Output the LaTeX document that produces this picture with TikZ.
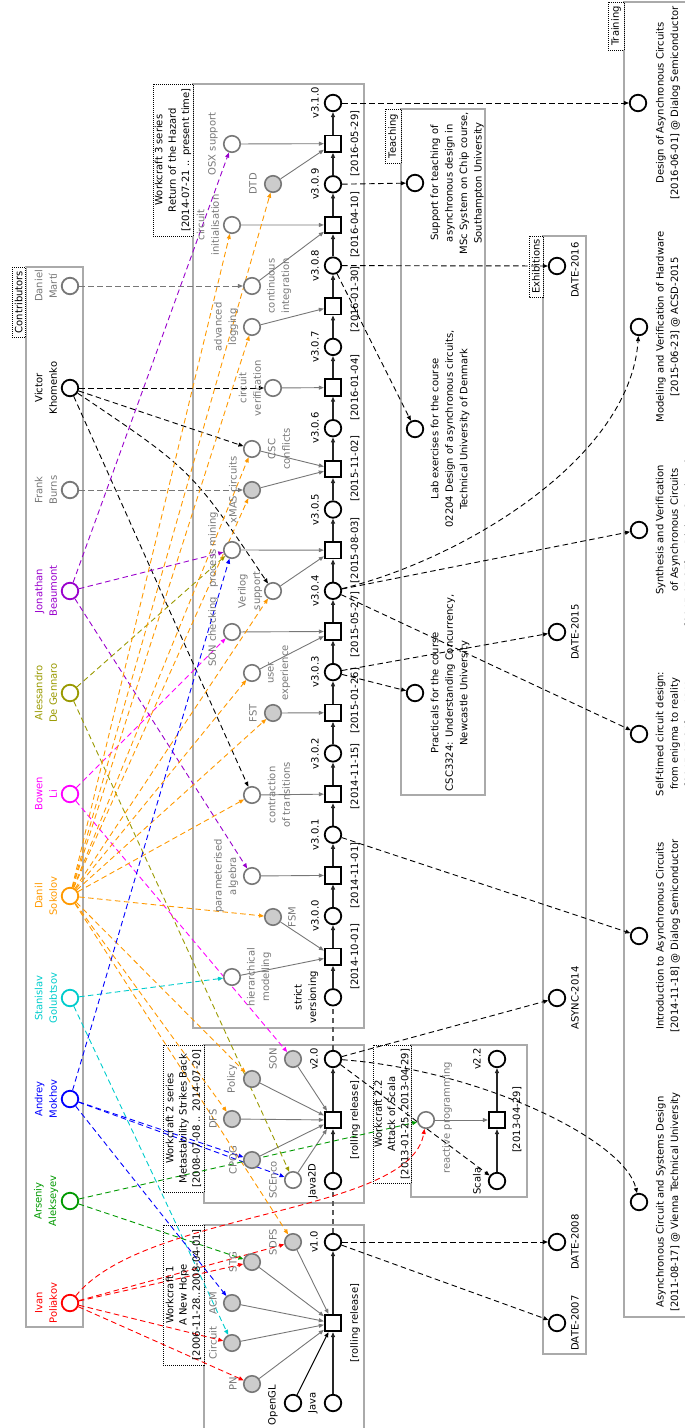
\documentclass[tikz,border=0pt]{standalone}
\usepackage{fontspec}
\setmainfont{DejaVu Sans}
\usetikzlibrary{arrows.meta}
\definecolor{cPurple}{HTML}{9900CC}
\definecolor{cOlive}{HTML}{999900}
\definecolor{cMagenta}{HTML}{FF00FF}
\definecolor{cOrange}{HTML}{FF9900}
\definecolor{cCyan}{HTML}{00CCCC}
\definecolor{cBlue}{HTML}{0000FF}
\definecolor{cGreen}{HTML}{009900}
\definecolor{cRed}{HTML}{FF0000}
\definecolor{cGray}{HTML}{777777}
\definecolor{cFrame}{HTML}{AAAAAA}
\definecolor{cFill}{HTML}{CCCCCC}
\pgfdeclarelayer{bg}
\pgfdeclarelayer{mid}
\pgfsetlayers{bg,mid,main}

\begin{document}
\begin{tikzpicture}[x=1pt,y=-1pt,
  font=\fontsize{10}{14.5}\selectfont,
  ver/.style={circle,draw=black,line width=1.8pt,fill=white,minimum size=16.5pt,inner sep=0pt},
  rel/.style={rectangle,draw=black,line width=1.8pt,fill=white,minimum size=16.5pt,inner sep=0pt},
  inp/.style={circle,draw=cGray,line width=1.6pt,fill=white,minimum size=16.5pt,inner sep=0pt},
  inpf/.style={inp,fill=cFill},
  who/.style={circle,line width=1.8pt,fill=white,minimum size=16.5pt,inner sep=0pt},
  txt/.style={rotate=90,align=center,inner sep=0pt},
  gtxt/.style={txt,text=cGray},
  tagtxt/.style={txt,font=\fontsize{10}{13.3}\selectfont},
  grp/.style={draw=cFrame,line width=1.3pt},
  tagbox/.style={draw=black,line width=0.8pt,dash pattern=on 1pt off 1pt,fill=white},
  arrowtip/.style={-{Triangle[length=5pt,width=4pt]}},
  spine/.style={draw=black!85,line width=1.4pt,arrowtip},
  spinegap/.style={draw=black!65,line width=1.4pt,dash pattern=on 5pt off 4pt},
  feed/.style={draw=cGray,line width=0.9pt,arrowtip},
  link/.style={draw=black,line width=0.9pt,dash pattern=on 5.5pt off 3.5pt,arrowtip},
  contrib/.style={line width=0.9pt,dash pattern=on 5.5pt off 3.5pt,arrowtip},
]
\useasboundingbox (0,0) rectangle (685,1428);
\clip (0,0) rectangle (685,1428);

% ---------- group frames and their tags ----------
\begin{pgfonlayer}{bg}
  \draw[grp] (26,267) rectangle (83,1327);
  \draw[grp] (193,84) rectangle (364,1028);
  \draw[grp] (204,1045) rectangle (364,1203);
  \draw[grp] (204,1225) rectangle (364,1460);
  \draw[grp] (411,1045) rectangle (527,1197);
  \draw[grp] (401,109) rectangle (485,795);
  \draw[grp] (543,236) rectangle (586,1354);
  \draw[grp] (624,2) rectangle (720,1317);
  \draw[tagbox] (12,267) rectangle (25.5,337);
  \draw[tagbox] (153,84) rectangle (193,236);
  \draw[tagbox] (163,1045) rectangle (204,1192);
  \draw[tagbox] (163,1225) rectangle (204,1365);
  \draw[tagbox] (373,1045) rectangle (411,1183);
  \draw[tagbox] (385,109) rectangle (401,163);
  \draw[tagbox] (529,236) rectangle (543,297);
  \draw[tagbox] (608,2) rectangle (624,50);
\end{pgfonlayer}
\node[txt] (tagC) at (18.75,302) {Contributors};
\node[tagtxt] (tag3) at (173,160) {Workcraft 3 series\\Return of the Hazard\\{[2014-07-21 .. present time]}};
\node[tagtxt] (tag2) at (183.5,1118.5) {Workcraft 2 series\\Metastability Strikes Back\\{[2008-07-08 .. 2014-07-20]}};
\node[tagtxt] (tag1) at (183.5,1295) {Workcraft 1\\A New Hope\\{[2006-11-28..2008-04-01]}};
\node[tagtxt] (tag22) at (392,1114) {Workcraft 2.2\\Attack of Scala\\{[2013-01-25..2013-04-29]}};
\node[txt] (tagT) at (393,136) {Teaching};
\node[txt] (tagE) at (536,266.5) {Exhibitions};
\node[txt] (tagR) at (616,26) {Training};

% ---------- contributors ----------
\node[who,draw=cGray] (dm) at (70,286) {};
\node[txt,text=cGray] (dmL) at (46,286) {Daniel\\Martí};
\node[who,draw=black] (vk) at (70,388) {};
\node[txt] (vkL) at (46,388) {Victor\\Khomenko};
\node[who,draw=cGray] (fb) at (70,490) {};
\node[txt,text=cGray] (fbL) at (46,490) {Frank\\Burns};
\node[who,draw=cPurple] (jb) at (70,591) {};
\node[txt,text=cPurple] (jbL) at (46,591) {Jonathan\\Beaumont};
\node[who,draw=cOlive] (ad) at (70,693) {};
\node[txt,text=cOlive] (adL) at (46,693) {Alessandro\\De Gennaro};
\node[who,draw=cMagenta] (bl) at (70,794) {};
\node[txt,text=cMagenta] (blL) at (46,794) {Bowen\\Li};
\node[who,draw=cOrange] (ds) at (70,896) {};
\node[txt,text=cOrange] (dsL) at (46,896) {Danil\\Sokolov};
\node[who,draw=cCyan] (sg) at (70,998) {};
\node[txt,text=cCyan] (sgL) at (46,998) {Stanislav\\Golubtsov};
\node[who,draw=cBlue] (am) at (70,1099) {};
\node[txt,text=cBlue] (amL) at (46,1099) {Andrey\\Mokhov};
\node[who,draw=cGreen] (aa) at (70,1201) {};
\node[txt,text=cGreen] (aaL) at (46,1201) {Arseniy\\Alekseyev};
\node[who,draw=cRed] (ip) at (70,1303) {};
\node[txt,text=cRed] (ipL) at (46,1303) {Ivan\\Poliakov};

% ---------- Workcraft 3 release chain ----------
\foreach \i/\lab in {0/v3.1.0,1/v3.0.9,2/v3.0.8,3/v3.0.7,4/v3.0.6,5/v3.0.5,6/v3.0.4,7/v3.0.3,8/v3.0.2,9/v3.0.1,10/v3.0.0}{
  \node[ver] (s\i) at (333,{103+81.3*\i}) {};
  \node[txt] (sL\i) at (315,{103+81.3*\i}) {\lab};
}
% release squares; some date tags sit a little higher to make way for other lines
\foreach \i/\d/\sh in {0/2016-05-29/0,1/2016-04-10/0,2/2016-01-30/-7,3/2016-01-04/0,4/2015-11-02/0,5/2015-08-03/0,6/2015-05-27/-7,7/2015-01-26/-12,8/2014-11-15/-18,9/2014-11-01/0,10/2014-10-01/0}{
  \node[rel] (q\i) at (333,{143.65+81.3*\i}) {};
  \node[txt] (qL\i) at (355,{143.65+81.3*\i+\sh}) {[\d]};
}
\node[ver] (strict) at (333,997.3) {};
\node[txt] (strictL) at (306,997.3) {strict\\versioning};

% feature inputs of Workcraft 3
\node[inp] (osx) at (232,144) {};
\node[gtxt] (osxL) at (213,144) {OSX support};
\node[inpf] (dtd) at (273,184) {};
\node[gtxt] (dtdL) at (253,184) {DTD};
\node[inp] (cinit) at (232,225) {};
\node[gtxt] (cinitL) at (208,225) {circuit\\initialisation};
\node[inp] (ci) at (252,286) {};
\node[gtxt] (ciL) at (279,286) {continuous\\integration};
\node[inp] (advlog) at (252,327) {};
\node[gtxt] (advlogL) at (226,327) {advanced\\logging};
\node[inp] (cver) at (273,388) {};
\node[gtxt] (cverL) at (250,388) {circuit\\verification};
\node[inp] (csc) at (252,449) {};
\node[gtxt] (cscL) at (279,449) {CSC\\conflicts};
\node[inpf] (xmas) at (252,490) {};
\node[gtxt] (xmasL) at (233,490) {xMAS circuits};
\node[inp] (pmine) at (232,550) {};
\node[gtxt] (pmineL) at (213,550) {process mining};
\node[inp] (verilog) at (273,591) {};
\node[gtxt] (verilogL) at (250,591) {Verilog\\support};
\node[inp] (sonchk) at (232,632) {};
\node[gtxt] (sonchkL) at (213,632) {SON checking};
\node[inp] (ux) at (252,673) {};
\node[gtxt] (uxL) at (279,673) {user\\experience};
\node[inpf] (fst) at (273,713) {};
\node[gtxt] (fstL) at (253,713) {FST};
\node[inp] (contr) at (252,795) {};
\node[gtxt] (contrL) at (279,795) {contraction\\of transitions};
\node[inp] (palg) at (252,876) {};
\node[gtxt] (palgL) at (226,876) {parameterised\\algebra};
\node[inpf] (fsm) at (273,917) {};
\node[gtxt] (fsmL) at (292,917) {FSM};
\node[inp] (hier) at (232,977) {};
\node[gtxt] (hierL) at (259,977) {hierarchical\\modelling};

% ---------- Workcraft 2 ----------
\node[ver] (v20) at (333,1059) {};
\node[txt] (v20L) at (314,1059) {v2.0};
\node[rel] (rel2) at (333,1120) {};
\node[txt] (rel2L) at (355,1120) {[rolling release]};
\node[ver] (java2d) at (333,1181) {};
\node[txt] (java2dL) at (313,1181) {Java2D};
\node[inpf] (son) at (293,1059) {};
\node[gtxt] (sonL) at (273,1059) {SON};
\node[inpf] (policy) at (252,1079) {};
\node[gtxt] (policyL) at (232,1079) {Policy};
\node[inpf] (dfs) at (232,1119) {};
\node[gtxt] (dfsL) at (213,1119) {DFS};
\node[inpf] (cpog) at (252,1160) {};
\node[gtxt] (cpogL) at (233,1160) {CPOG};
\node[inp] (scenco) at (293,1180) {};
\node[gtxt] (scencoL) at (273,1180) {SCEnco};

% ---------- Workcraft 2.2 ----------
\node[ver] (v22) at (497,1059) {};
\node[txt] (v22L) at (477,1059) {v2.2};
\node[rel] (rel22) at (497,1120) {};
\node[txt] (rel22L) at (517,1120) {[2013-04-29]};
\node[ver] (scala) at (497,1181) {};
\node[txt] (scalaL) at (477,1181) {Scala};
\node[inp] (rp) at (426,1120) {};
\node[gtxt] (rpL) at (447,1118) {reactive programming};

% ---------- Workcraft 1 ----------
\node[ver] (v10) at (333,1242) {};
\node[txt] (v10L) at (314,1242) {v1.0};
\node[rel] (rel1) at (333,1323) {};
\node[txt] (rel1L) at (355,1323) {[rolling release]};
\node[ver] (java) at (333,1403) {};
\node[txt] (javaL) at (313,1403) {Java};
\node[ver] (opengl) at (293,1403) {};
\node[txt] (openglL) at (273,1405) {OpenGL};
\node[inpf] (sdfs) at (293,1242) {};
\node[gtxt] (sdfsL) at (273,1242) {SDFS};
\node[inpf] (stg) at (252,1262) {};
\node[gtxt] (stgL) at (233,1262) {STG};
\node[inpf] (acm) at (232,1303) {};
\node[gtxt] (acmL) at (213,1303) {ACM};
\node[inpf] (circ) at (232,1343) {};
\node[gtxt] (circL) at (213,1343) {Circuit};
\node[inpf] (pn) at (252,1384) {};
\node[gtxt] (pnL) at (233,1384) {PN};

% ---------- teaching ----------
\node[ver] (t1) at (415,183) {};
\node[txt] (t1L) at (457,183) {Support for teaching of\\asynchronous design in\\MSc System on Chip course,\\Southampton University};
\node[ver] (t2) at (415,429) {};
\node[txt] (t2L) at (450,429) {Lab exercises for the course\\02204 Design of asynchronous circuits,\\Technical University of Denmark};
\node[ver] (t3) at (415,693) {};
\node[txt] (t3L) at (450,693) {Practicals for the course\\CSC3324: Understanding Concurrency,\\Newcastle University};

% ---------- exhibitions ----------
\node[ver] (e16) at (557,266) {};
\node[txt] (e16L) at (575,270) {DATE-2016};
\node[ver] (e15) at (557,632) {};
\node[txt] (e15L) at (575,632) {DATE-2015};
\node[ver] (a14) at (557,998) {};
\node[txt] (a14L) at (575,998) {ASYNC-2014};
\node[ver] (e08) at (557,1242) {};
\node[txt] (e08L) at (575,1242) {DATE-2008};
\node[ver] (e07) at (557,1323) {};
\node[txt] (e07L) at (575,1323) {DATE-2007};

% ---------- training ----------
\node[ver] (c1) at (638,103) {};
\node[txt] (c1L) at (668,103) {Design of Asynchronous Circuits\\{[2016-06-01] @ Dialog Semiconductor}};
\node[ver] (c2) at (639,327) {};
\node[txt] (c2L) at (668,327) {Modeling and Verification of Hardware\\{[2015-06-23] @ ACSD-2015}};
\node[ver] (c3) at (639,530) {};
\node[txt] (c3L) at (675,530) {Synthesis and Verification\\of Asynchronous Circuits\\{[2015-05-27] @ Dialog Semiconductor}};
\node[ver] (c4) at (639,734) {};
\node[txt] (c4L) at (675,734) {Self-timed circuit design:\\from enigma to reality\\{[2015-05-21] @ ARM}};
\node[ver] (c5) at (639,936) {};
\node[txt] (c5L) at (668,936) {Introduction to Asynchronous Circuits\\{[2014-11-18] @ Dialog Semiconductor}};
\node[ver] (c6) at (639,1202) {};
\node[txt] (c6L) at (668,1202) {Asynchronous Circuit and Systems Design\\{[2011-08-17] @ Vienna Technical University}};

% ---------- connectors ----------
\begin{pgfonlayer}{mid}
  % release chains
  \foreach \i in {0,...,10}{ \draw[spine] (q\i) -- (s\i); }
  \foreach \i [count=\j from 1] in {0,...,9}{ \draw[spine] (s\j) -- (q\i); }
  \draw[spine] (strict) -- (q10);
  \draw[spinegap] (v20) -- (strict);
  \draw[spine] (rel2) -- (v20);
  \draw[spine] (java2d) -- (rel2);
  \draw[spinegap] (v10) -- (java2d);
  \draw[spine] (rel1) -- (v10);
  \draw[spine] (java) -- (rel1);
  \draw[spine,line width=1pt,draw=black] (opengl) -- (rel1);
  \draw[spine] (scala) -- (rel22);
  \draw[spine] (rel22) -- (v22);

  % features into releases
  \draw[feed] (osx) -- (q0);   \draw[feed] (dtd) -- (q0);
  \draw[feed] (cinit) -- (q1); \draw[feed] (ci) -- (q1);
  \draw[feed] (advlog) -- (q2);
  \draw[feed] (cver) -- (q3);
  \draw[feed] (csc) -- (q4);   \draw[feed] (xmas) -- (q4);
  \draw[feed] (pmine) -- (q5); \draw[feed] (verilog) -- (q5);
  \draw[feed] (sonchk) -- (q6); \draw[feed] (ux) -- (q6);
  \draw[feed] (fst) -- (q7);
  \draw[feed] (contr) -- (q8);
  \draw[feed] (palg) -- (q9);
  \draw[feed] (fsm) -- (q10);  \draw[feed] (hier) -- (q10);
  \foreach \n in {son,policy,dfs,cpog,scenco}{ \draw[feed] (\n) -- (rel2); }
  \foreach \n in {sdfs,stg,acm,circ,pn}{ \draw[feed] (\n) -- (rel1); }
  \draw[feed] (rp) -- (rel22);

  % releases to teaching, exhibitions and training
  \draw[link] (s0) -- (c1);
  \draw[link] (s1) -- (t1);
  \draw[link] (s2) -- (e16);
  \draw[link] (s2) -- (t2);
  \draw[link] (s6) -- (c3);
  \draw[link] (s6) .. controls (460,560) and (630,460) .. (c2);
  \draw[link] (s6) -- (c4);
  \draw[link] (s7) -- (e15);
  \draw[link] (s7) -- (t3);
  \draw[link] (s9) -- (c5);
  \draw[link] (v20) -- (a14);
  \draw[link] (v20) .. controls (480,1070) and (625,1140) .. (c6);
  \draw[link] (v20) -- (scala);
  \draw[link] (v10) -- (e08);
  \draw[link] (v10) -- (e07);

  % contributions
  \draw[contrib,cGray] (dm) -- (ci);
  \draw[contrib,black] (vk) -- (cver);
  \draw[contrib,black] (vk) -- (csc);
  \draw[contrib,black] (vk) .. controls (192,470) .. (verilog);
  \draw[contrib,black] (vk) -- (contr);
  \draw[contrib,cGray] (fb) -- (xmas);
  \foreach \n in {osx,pmine,palg}{ \draw[contrib,cPurple] (jb) -- (\n); }
  \foreach \n in {pmine,scenco}{ \draw[contrib,cOlive] (ad) -- (\n); }
  \foreach \n in {sonchk,son}{ \draw[contrib,cMagenta] (bl) -- (\n); }
  \foreach \n in {dtd,cinit,advlog,csc,xmas,verilog,ux,fst,contr,fsm,policy,dfs,sdfs}{ \draw[contrib,cOrange] (ds) -- (\n); }
  \foreach \n in {hier,circ}{ \draw[contrib,cCyan] (sg) -- (\n); }
  \foreach \n in {pmine,cpog,scenco,acm}{ \draw[contrib,cBlue] (am) -- (\n); }
  \foreach \n in {rp,stg}{ \draw[contrib,cGreen] (aa) -- (\n); }
  \draw[contrib,cRed] (ip) .. controls (145,1210) and (410,1215) .. (rp);
  \foreach \n in {sdfs,stg,circ,pn}{ \draw[contrib,cRed] (ip) -- (\n); }
\end{pgfonlayer}
\end{tikzpicture}
\end{document}
